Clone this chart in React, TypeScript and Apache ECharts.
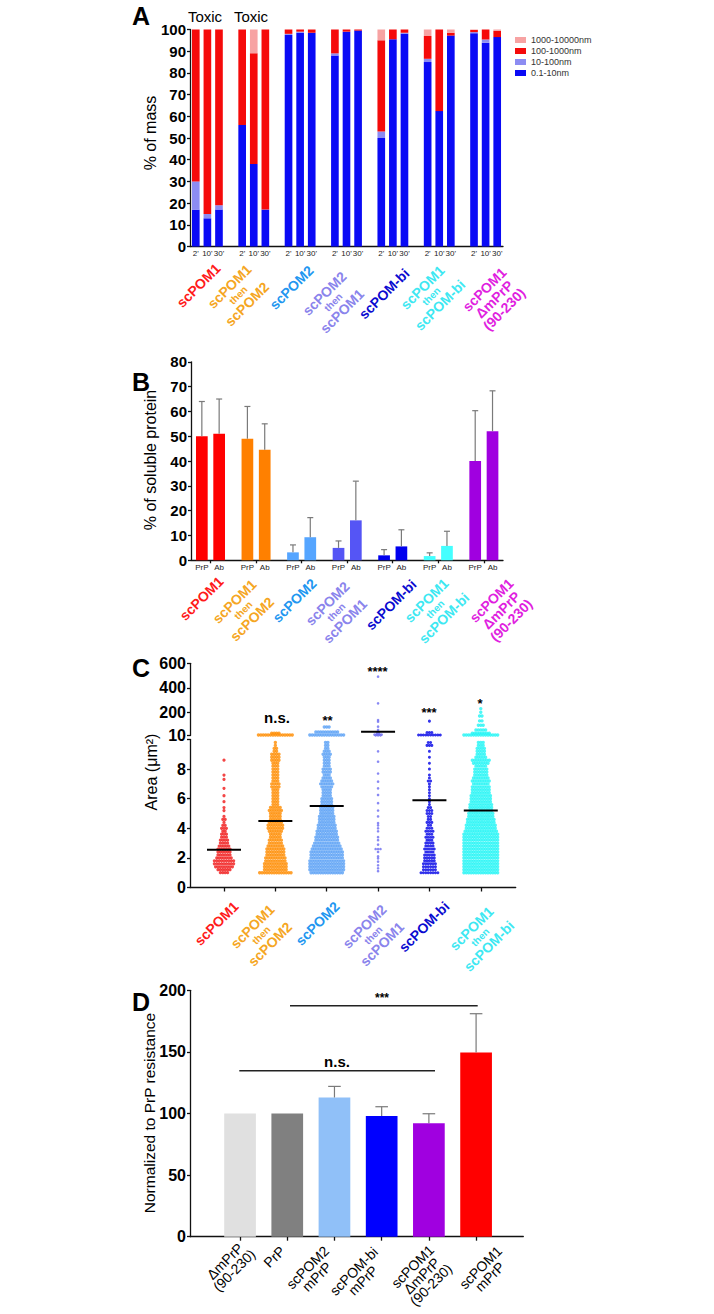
import React, { useEffect, useRef } from 'react';
import * as echarts from 'echarts';

const FONT = 'Liberation Sans';

// ---------------- Panel A : % of mass by size class ----------------
const aGroupCount = 7;
const aTimes = ["2'", "10'", "30'"];
const aSizeNames = ['0.1-10nm', '10-100nm', '100-1000nm', '1000-10000nm'];
// 7 groups x 3 time points (2', 10', 30')
const aSize0_1to10 = [17, 13, 17, 56, 38, 17, 97.5, 98.5, 98.5, 88, 99, 99.5, 50, 95.5, 98, 85, 62.4, 97.2, 98.3, 93.9, 96.5];
const aSize10to100 = [13, 2, 2, 0, 0, 0, 0.5, 0.5, 0, 1, 0, 0, 3, 0, 0.5, 1.5, 0, 0, 0.5, 1.5, 0];
const aSize100to1000 = [70, 85, 81, 44, 51, 83, 2, 1, 1.5, 11, 1, 0.5, 42, 4.5, 1.5, 10.5, 37.6, 1.3, 1, 4.6, 2.9];
const aSize1000to10000 = [0, 0, 0, 0, 11, 0, 0, 0, 0, 0, 0, 0, 5, 0, 0, 3, 0, 1.5, 0.2, 0, 0.6];
const aSizeColors = ['#0a0af5', '#8c8cf2', '#f50a0a', '#f7a3a3'];
const aYTicks = { min: 0, max: 100, interval: 10 };

// shared group labels
const groupLabelLines = [
  ['scPOM1'],
  ['scPOM1', 'then', 'scPOM2'],
  ['scPOM2'],
  ['scPOM2', 'then', 'scPOM1'],
  ['scPOM-bi'],
  ['scPOM1', 'then', 'scPOM-bi'],
  ['scPOM1', 'ΔmPrP', '(90-230)'],
];
const groupLabelColors = ['#ff1a1a', '#f5a623', '#2196f0', '#8a84ec', '#0a0ad0', '#3de8f2', '#e01fe0'];

// ---------------- Panel B : % of soluble protein ----------------
const bSubLabels = ['PrP', 'Ab'];
const bPrP = [50, 49, 3.2, 5, 2, 1.7, 40];
const bPrPUpper = [64, 62, 6.2, 7.8, 4.3, 3.0, 60.3];
const bAb = [51, 44.6, 9.3, 16.1, 5.6, 5.8, 52];
const bAbUpper = [65, 55, 17.2, 31.9, 12.3, 11.7, 68.3];
const bColors = ['#ff0000', '#ff8000', '#55a5ff', '#5555f5', '#0000ee', '#44ffff', '#a000e0'];

// ---------------- Panel C : area (µm²), rows of [value, count] ----------------
const cRedRows = [[1.0, 4], [1.2, 6], [1.4, 8], [1.6, 9], [1.8, 9], [2.0, 7], [2.2, 6], [2.4, 6], [2.6, 6], [2.8, 5], [3.0, 4], [3.2, 4], [3.4, 3], [3.6, 3], [3.8, 2], [4.0, 3], [4.2, 2], [4.4, 1], [4.6, 2], [4.8, 1], [5.2, 1], [5.4, 1], [5.8, 1], [6.2, 1], [6.7, 1], [7.3, 1], [7.6, 1], [8.6, 1]];
const cOrangeRows = [[1.0, 14], [1.2, 10], [1.4, 10], [1.6, 10], [1.8, 9], [2.0, 9], [2.2, 8], [2.4, 8], [2.6, 8], [2.8, 7], [3.0, 6], [3.2, 6], [3.4, 5], [3.6, 5], [3.8, 6], [4.0, 7], [4.2, 7], [4.4, 6], [4.6, 5], [4.8, 5], [5.0, 5], [5.2, 6], [5.4, 5], [5.6, 3], [5.8, 3], [6.0, 3], [6.2, 3], [6.4, 3], [6.6, 3], [6.8, 4], [7.0, 4], [7.2, 3], [7.4, 3], [7.6, 3], [7.8, 3], [8.0, 3], [8.2, 3], [8.4, 3], [8.6, 4], [8.8, 4], [9.0, 4], [9.2, 2], [9.4, 2], [9.6, 1], [9.8, 1], [15, 15], [30, 4]];
const cBlueRows = [[1.0, 14], [1.2, 15], [1.4, 15], [1.6, 15], [1.8, 15], [2.0, 14], [2.2, 14], [2.4, 14], [2.6, 13], [2.8, 12], [3.0, 11], [3.2, 10], [3.4, 10], [3.6, 9], [3.8, 9], [4.0, 8], [4.2, 8], [4.4, 7], [4.6, 7], [4.8, 7], [5.0, 6], [5.2, 6], [5.4, 6], [5.6, 5], [5.8, 5], [6.0, 5], [6.2, 4], [6.4, 4], [6.6, 4], [6.8, 5], [7.0, 6], [7.2, 5], [7.4, 4], [7.6, 3], [7.8, 4], [8.0, 4], [8.2, 3], [8.4, 3], [8.6, 3], [8.8, 3], [9.0, 4], [9.2, 3], [9.4, 2], [9.6, 2], [9.8, 2], [15, 15], [40, 10], [80, 3]];
const cLavenderRows = [[1.1, 1], [1.3, 1], [1.5, 1], [1.75, 1], [1.97, 1], [2.1, 1], [2.4, 1], [2.6, 3], [2.9, 1], [3.2, 1], [3.4, 1], [3.8, 1], [4.0, 1], [4.2, 1], [4.35, 1], [4.8, 1], [5.2, 1], [5.7, 1], [6.25, 1], [6.7, 1], [7.15, 1], [7.7, 1], [8.5, 1], [9.2, 1], [12, 3], [18, 4], [28, 2], [40, 1], [56, 1], [83, 1], [124, 1], [137, 1], [273, 1], [491, 1]];
const cDarkRows = [[1.0, 8], [1.2, 6], [1.4, 6], [1.6, 6], [1.8, 5], [2.0, 5], [2.2, 5], [2.4, 4], [2.6, 5], [2.8, 4], [3.0, 4], [3.2, 3], [3.4, 4], [3.6, 3], [3.8, 4], [4.0, 3], [4.2, 2], [4.4, 3], [4.6, 2], [4.8, 2], [5.0, 3], [5.2, 3], [5.4, 2], [5.6, 1], [5.8, 1], [6.0, 1], [6.2, 1], [6.4, 1], [6.6, 1], [6.8, 1], [7.0, 1], [7.2, 2], [7.4, 1], [7.6, 1], [8.0, 1], [8.4, 1], [8.8, 1], [9.2, 1], [9.6, 3], [9.8, 2], [15, 10], [35, 3], [128, 1]];
const cCyanRows = [[1.0, 15], [1.2, 15], [1.4, 15], [1.6, 15], [1.8, 15], [2.0, 15], [2.2, 15], [2.4, 15], [2.6, 15], [2.8, 15], [3.0, 15], [3.2, 15], [3.4, 15], [3.6, 15], [3.8, 14], [4.0, 13], [4.2, 13], [4.4, 12], [4.6, 12], [4.8, 11], [5.0, 11], [5.2, 10], [5.4, 10], [5.6, 10], [5.8, 9], [6.0, 9], [6.2, 9], [6.4, 8], [6.6, 8], [6.8, 8], [7.0, 7], [7.2, 8], [7.4, 7], [7.6, 6], [7.8, 6], [8.0, 6], [8.2, 5], [8.4, 7], [8.6, 8], [8.8, 5], [9.0, 4], [9.2, 4], [9.4, 4], [9.6, 3], [9.8, 3], [15, 15], [30, 8], [55, 5], [95, 3], [130, 2], [170, 2], [200, 1], [230, 1]];
const cRows = [cRedRows, cOrangeRows, cBlueRows, cLavenderRows, cDarkRows, cCyanRows];
const cMeans = [2.55, 4.5, 5.5, 42, 5.9, 5.2];
const cStars = ['', 'n.s.', '**', '****', '***', '*'];
const cDotColors = ['#f01818', '#ff8c00', '#5aa0f5', '#6a6af0', '#0000e6', '#22f5f5'];
const cDotSizes = [3.2, 3.4, 3.4, 2.6, 3.0, 3.4];
const cUpperTicks = [10, 200, 400, 600];

// ---------------- Panel D : normalized to PrP resistance ----------------
const dLabelLines = [
  ['ΔmPrP', '(90-230)'],
  ['PrP'],
  ['scPOM2', 'mPrP'],
  ['scPOM-bi', 'mPrP'],
  ['scPOM1', 'ΔmPrP', '(90-230)'],
  ['scPOM1', 'mPrP'],
];
const dValues = [100, 100, 113, 98, 92, 149.5];
const dUpper = [100, 100, 122, 105.5, 99.8, 181];
const dColors = ['#e0e0e0', '#808080', '#90c0f8', '#0000ff', '#a000e0', '#ff0000'];

// ---------------- helpers ----------------
const SQ = Math.SQRT1_2;
let measureCtx: CanvasRenderingContext2D | null = null;
function textWidth(t: string, size: number, weight: string) {
  if (!measureCtx) measureCtx = document.createElement('canvas').getContext('2d');
  measureCtx!.font = `${weight} ${size}px "${FONT}"`;
  return measureCtx!.measureText(t).width;
}

// rotated (45°) multi-line category label; (rx, ry) = top-right of first line
function rotLabel(lines: string[], color: string, rx: number, ry: number, opt: any = {}) {
  const size = opt.size ?? 14;
  const small = opt.small ?? 10;
  const weight = opt.weight ?? 'bold';
  const lh = opt.lh ?? 14;
  const slh = opt.slh ?? 11;
  const text = lines.map((l) => (l === 'then' ? `{t|${l}}` : `{m|${l}}`)).join('\n');
  const w1 = textWidth(lines[0], lines[0] === 'then' ? small : size, weight);
  const bx = rx - 1.5 * SQ;
  const by = ry - 1.5 * SQ;
  return {
    type: 'text',
    x: bx - (SQ * w1) / 2,
    y: by + (SQ * w1) / 2,
    rotation: Math.PI / 4,
    silent: true,
    style: {
      text,
      align: 'center',
      verticalAlign: 'top',
      fill: color,
      rich: {
        m: { fontSize: size, fontWeight: weight, fontFamily: FONT, lineHeight: lh, fill: color, align: 'center' },
        t: { fontSize: small, fontWeight: weight, fontFamily: FONT, lineHeight: slh, fill: color, align: 'center' },
      },
    },
  };
}

function plainText(text: string, x: number, y: number, size: number, opt: any = {}) {
  return {
    type: 'text',
    x,
    y,
    rotation: opt.rotation ?? 0,
    silent: true,
    style: {
      text,
      fill: opt.color ?? '#000',
      fontSize: size,
      fontWeight: opt.weight ?? 'normal',
      fontFamily: FONT,
      align: opt.align ?? 'center',
      verticalAlign: opt.valign ?? 'middle',
    },
  };
}

const DOT_STEP = 0.047; // horizontal spacing between dots of one row (x units)
function swarm(gi: number, rows: number[][], lower: boolean) {
  const pts: number[][] = [];
  rows.forEach(([v, n]) => {
    if (lower ? v > 10 : v <= 10) return;
    for (let k = 0; k < n; k++) pts.push([gi + (k - (n - 1) / 2) * DOT_STEP, v]);
  });
  return pts;
}

function errRender(cap: number) {
  return (params: any, api: any) => {
    const x = api.value(0);
    const p0 = api.coord([x, api.value(1)]);
    const p1 = api.coord([x, api.value(2)]);
    const st = { stroke: '#7a7a7a', lineWidth: 1.2 };
    return {
      type: 'group',
      children: [
        { type: 'line', shape: { x1: p0[0], y1: p0[1], x2: p1[0], y2: p1[1] }, style: st },
        { type: 'line', shape: { x1: p1[0] - cap, y1: p1[1], x2: p1[0] + cap, y2: p1[1] }, style: st },
      ],
    };
  };
}

const axisLineStyle = { color: '#111', width: 1.3 };
const yLabel = (size: number) => ({ fontSize: size, color: '#000', fontFamily: FONT, fontWeight: 'bold', margin: 4 });

function buildOption() {
  // ---- Panel A categories (3 time points + 1 gap per group) ----
  const aCats: string[] = [];
  for (let g = 0; g < aGroupCount; g++) {
    aTimes.forEach((t) => aCats.push(t));
    if (g < aGroupCount - 1) aCats.push('');
  }
  const expandA = (arr: number[]) => {
    const out: any[] = [];
    for (let g = 0; g < aGroupCount; g++) {
      for (let t = 0; t < 3; t++) out.push(arr[g * 3 + t]);
      if (g < aGroupCount - 1) out.push('-');
    }
    return out;
  };
  const aSeriesData = [aSize0_1to10, aSize10to100, aSize100to1000, aSize1000to10000];

  const BOFF = 0.19;
  const bLabelValues: number[] = [];
  bPrP.forEach((_, i) => { bLabelValues.push(i - BOFF, i + BOFF); });

  const series: any[] = [];
  // A
  aSizeNames.forEach((name, si) => {
    series.push({
      type: 'bar', name, stack: 'a', xAxisIndex: 0, yAxisIndex: 0, barWidth: '66%',
      itemStyle: { color: aSizeColors[si] }, data: expandA(aSeriesData[si]), silent: true,
    });
  });
  // B
  const bBars: any[] = [];
  const bErr: any[] = [];
  bPrP.forEach((v, i) => {
    bBars.push({ value: [i - BOFF, v], itemStyle: { color: bColors[i] } });
    bBars.push({ value: [i + BOFF, bAb[i]], itemStyle: { color: bColors[i] } });
    bErr.push([i - BOFF, v, bPrPUpper[i]]);
    bErr.push([i + BOFF, bAb[i], bAbUpper[i]]);
  });
  series.push({ type: 'bar', xAxisIndex: 1, yAxisIndex: 1, barWidth: 11.7, data: bBars, silent: true });
  series.push({ type: 'custom', xAxisIndex: 1, yAxisIndex: 1, renderItem: errRender(3), data: bErr, encode: { x: 0, y: [1, 2] }, silent: true, z: 3 });
  // C
  cRows.forEach((rows, gi) => {
    series.push({ type: 'scatter', xAxisIndex: 2, yAxisIndex: 2, symbolSize: cDotSizes[gi], itemStyle: { color: cDotColors[gi] }, data: swarm(gi, rows, true), silent: true });
    series.push({ type: 'scatter', xAxisIndex: 3, yAxisIndex: 3, symbolSize: cDotSizes[gi], itemStyle: { color: cDotColors[gi] }, data: swarm(gi, rows, false), silent: true });
  });
  const meanRender = (params: any, api: any) => {
    const c = api.coord([api.value(0), api.value(1)]);
    return { type: 'line', shape: { x1: c[0] - 17, y1: c[1], x2: c[0] + 17, y2: c[1] }, style: { stroke: '#000', lineWidth: 2 } };
  };
  series.push({ type: 'custom', xAxisIndex: 2, yAxisIndex: 2, z: 5, renderItem: meanRender, silent: true, data: cMeans.map((m, i) => [i, m]).filter((d) => d[1] <= 10) });
  series.push({ type: 'custom', xAxisIndex: 3, yAxisIndex: 3, z: 5, renderItem: meanRender, silent: true, data: cMeans.map((m, i) => [i, m]).filter((d) => d[1] > 10) });
  // D
  series.push({ type: 'bar', xAxisIndex: 4, yAxisIndex: 4, barWidth: 31.7, silent: true, data: dValues.map((v, i) => ({ value: [i, v], itemStyle: { color: dColors[i] } })) });
  series.push({
    type: 'custom', xAxisIndex: 4, yAxisIndex: 4, z: 3, renderItem: errRender(6.3), silent: true, encode: { x: 0, y: [1, 2] },
    data: dValues.map((v, i) => [i, v, dUpper[i]]).filter((d) => d[2] > d[1]),
  });

  // ---- graphic texts ----
  const g: any[] = [];
  const titleOpt = { weight: 'bold', align: 'left', valign: 'top' };
  g.push(plainText('A', 132, 3, 25, titleOpt));
  g.push(plainText('B', 132, 369, 25, titleOpt));
  g.push(plainText('C', 132, 655, 25, titleOpt));
  g.push(plainText('D', 132, 989, 25, titleOpt));
  g.push(plainText('Toxic', 205, 16.5, 15));
  g.push(plainText('Toxic', 251, 16.5, 15));
  // y titles
  const rot = { rotation: Math.PI / 2 };
  g.push(plainText('% of mass', 150, 133, 16, rot));
  g.push(plainText('% of soluble protein', 150, 460, 16, rot));
  g.push(plainText('Area (μm²)', 151, 772, 16, rot));
  g.push(plainText('Normalized to PrP resistance', 149, 1113, 15.5, rot));
  // category labels
  const aPos = [[214, 262], [245, 263], [307, 264], [340, 270], [403, 267], [438, 264], [500, 266]];
  const bPos = [[217, 575], [250, 578], [310, 577], [343, 580], [410, 578], [442, 577], [507, 577]];
  const cPos = [[232, 900], [268, 903], [333, 900], [380, 903], [443, 900], [487, 905]];
  const dPos = [[237, 1242], [279, 1245], [323, 1245], [372, 1246], [428, 1244], [496, 1245]];
  groupLabelLines.forEach((lines, i) => g.push(rotLabel(lines, groupLabelColors[i], aPos[i][0], aPos[i][1])));
  groupLabelLines.forEach((lines, i) => g.push(rotLabel(lines, groupLabelColors[i], bPos[i][0], bPos[i][1])));
  groupLabelLines.slice(0, 6).forEach((lines, i) => g.push(rotLabel(lines, groupLabelColors[i], cPos[i][0], cPos[i][1])));
  dLabelLines.forEach((lines, i) => g.push(rotLabel(lines, '#000', dPos[i][0], dPos[i][1], { lh: 13, weight: 'normal', size: 14 })));
  // significance in C
  const starPos = [[0, 0], [277, 717], [327.5, 720], [377.5, 671], [429, 712], [480, 703]];
  cStars.forEach((s, i) => {
    if (!s) return;
    g.push(plainText(s, starPos[i][0], starPos[i][1], s === 'n.s.' ? 15 : 13, { weight: 'bold' }));
  });
  // significance in D
  g.push({ type: 'line', silent: true, shape: { x1: 290, y1: 1005.7, x2: 477.7, y2: 1005.7 }, style: { stroke: '#222', lineWidth: 1.5 } });
  g.push(plainText('***', 382, 998, 12, { weight: 'bold' }));
  g.push({ type: 'line', silent: true, shape: { x1: 239.3, y1: 1070.7, x2: 435, y2: 1070.7 }, style: { stroke: '#222', lineWidth: 1.5 } });
  g.push(plainText('n.s.', 337, 1061, 15, { weight: 'bold' }));

  return {
    animation: false,
    backgroundColor: '#fff',
    textStyle: { fontFamily: FONT },
    legend: {
      data: ['1000-10000nm', '100-1000nm', '10-100nm', '0.1-10nm'],
      orient: 'vertical', left: 510, top: 29.5, itemWidth: 11, itemHeight: 6, itemGap: 0, icon: 'rect',
      selectedMode: false, textStyle: { fontSize: 9, color: '#333', fontFamily: FONT, lineHeight: 11 },
    },
    grid: [
      { left: 190, top: 29.5, width: 313, height: 217 },
      { left: 191, top: 361.8, width: 312, height: 198.5 },
      { left: 190, top: 739.5, width: 325.7, height: 148 },
      { left: 190, top: 663.3, width: 325.7, height: 72.3 },
      { left: 190, top: 990.3, width: 333.3, height: 246.4 },
    ],
    xAxis: [
      {
        gridIndex: 0, type: 'category', data: aCats,
        axisLine: { lineStyle: axisLineStyle },
        axisTick: { alignWithLabel: true, interval: (i: number) => i % 4 === 3, length: 3, lineStyle: axisLineStyle },
        axisLabel: { interval: 0, fontSize: 8, color: '#222', margin: 3, fontFamily: FONT },
      },
      {
        gridIndex: 1, type: 'value', min: -0.428, max: 6.42,
        axisLine: { lineStyle: axisLineStyle },
        axisTick: { customValues: [0, 1, 2, 3, 4, 5, 6], length: 3, lineStyle: axisLineStyle },
        axisLabel: {
          customValues: bLabelValues, fontSize: 8, color: '#222', margin: 3, fontFamily: FONT,
          formatter: (v: number) => (Math.round(v) > v ? bSubLabels[0] : bSubLabels[1]),
        },
        splitLine: { show: false },
      },
      {
        gridIndex: 2, type: 'value', min: -0.662, max: 5.68,
        axisLine: { lineStyle: axisLineStyle },
        axisTick: { customValues: [0, 1, 2, 3, 4, 5], length: 4, lineStyle: axisLineStyle },
        axisLabel: { show: false }, splitLine: { show: false },
      },
      { gridIndex: 3, type: 'value', min: -0.662, max: 5.68, show: false, splitLine: { show: false } },
      {
        gridIndex: 4, type: 'value', min: -1.06, max: 6.0,
        axisLine: { lineStyle: axisLineStyle },
        axisTick: { customValues: [0, 1, 2, 3, 4, 5], length: 4, lineStyle: axisLineStyle },
        axisLabel: { show: false }, splitLine: { show: false },
      },
    ],
    yAxis: [
      {
        gridIndex: 0, type: 'value', ...aYTicks,
        axisLine: { show: true, onZero: false, lineStyle: axisLineStyle },
        axisTick: { show: true, length: 3, lineStyle: axisLineStyle },
        axisLabel: yLabel(15), splitLine: { show: false },
      },
      {
        gridIndex: 1, type: 'value', min: 0, max: 80, interval: 10,
        axisLine: { show: true, onZero: false, lineStyle: axisLineStyle },
        axisTick: { show: true, length: 3, lineStyle: axisLineStyle },
        axisLabel: yLabel(15), splitLine: { show: false },
      },
      {
        gridIndex: 2, type: 'value', min: 0, max: 10, interval: 2,
        axisLine: { show: true, onZero: false, lineStyle: axisLineStyle },
        axisTick: { show: true, length: 3, lineStyle: axisLineStyle },
        axisLabel: { ...yLabel(16), formatter: (v: number) => (v === 10 ? '' : String(v)) }, splitLine: { show: false },
      },
      {
        gridIndex: 3, type: 'value', min: 10, max: 600,
        axisLine: { show: true, onZero: false, lineStyle: axisLineStyle },
        axisTick: { show: true, length: 3, customValues: cUpperTicks, lineStyle: axisLineStyle },
        axisLabel: { ...yLabel(16), customValues: cUpperTicks }, splitLine: { show: false },
      },
      {
        gridIndex: 4, type: 'value', min: 0, max: 200, interval: 50,
        axisLine: { show: true, onZero: false, lineStyle: axisLineStyle },
        axisTick: { show: true, length: 3, lineStyle: axisLineStyle },
        axisLabel: yLabel(16), splitLine: { show: false },
      },
    ],
    series,
    graphic: { elements: g },
  };
}

export default function App() {
  const ref = useRef<HTMLDivElement>(null);
  useEffect(() => {
    const chart = echarts.init(ref.current!, null, { renderer: 'svg' });
    chart.setOption(buildOption() as any);
    return () => chart.dispose();
  }, []);
  return (
    <div
      ref={ref}
      style={{ position: 'absolute', left: 0, top: 0, width: 714, height: 1314, background: '#fff' }}
    />
  );
}
